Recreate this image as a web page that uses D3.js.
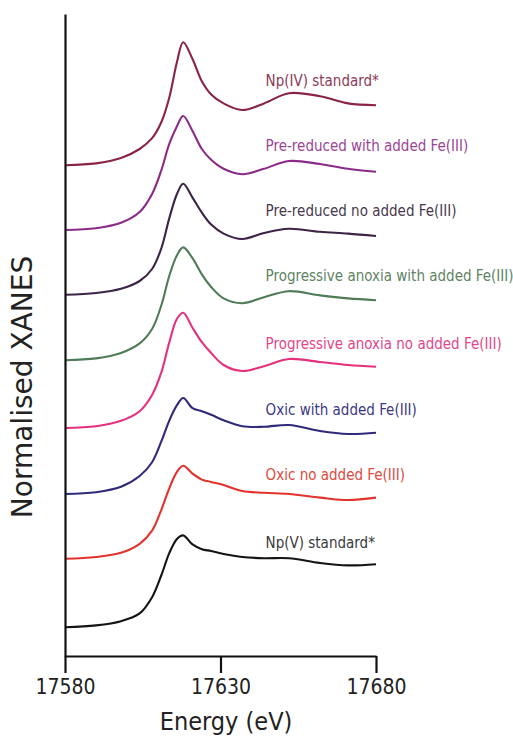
<!DOCTYPE html>
<html><head><meta charset="utf-8">
<script src="https://cdn.jsdelivr.net/npm/d3@7/dist/d3.min.js"></script>
<style>body{margin:0;background:#fff}svg{display:block}</style>
</head><body><svg id="c" width="513" height="736"></svg>
<script>
// Energy grid (eV)
const energies = [17580, 17590, 17598, 17604, 17608, 17611, 17613.5, 17616, 17618, 17621, 17624, 17627, 17631, 17637, 17644, 17652, 17662, 17671, 17680];

// Normalised XANES (before vertical stacking offset)
const npV        = [0, 0.03, 0.10, 0.23, 0.50, 0.87, 1.23, 1.47, 1.53, 1.38, 1.30, 1.27, 1.22, 1.17, 1.15, 1.15, 1.07, 1.03, 1.05];
const oxicNo     = [0, 0.03, 0.10, 0.25, 0.47, 0.82, 1.17, 1.45, 1.55, 1.42, 1.32, 1.28, 1.23, 1.13, 1.10, 1.08, 1.02, 0.98, 1.02];
const oxicWith   = [0, 0.03, 0.12, 0.30, 0.53, 0.88, 1.22, 1.48, 1.60, 1.43, 1.38, 1.32, 1.23, 1.13, 1.12, 1.15, 1.05, 1.00, 1.02];
const anoxiaNo   = [0, 0.03, 0.12, 0.28, 0.55, 0.93, 1.42, 1.82, 1.92, 1.67, 1.43, 1.25, 1.05, 0.95, 1.03, 1.15, 1.10, 1.05, 1.02];
const anoxiaWith = [0, 0.03, 0.12, 0.28, 0.52, 0.92, 1.40, 1.75, 1.88, 1.70, 1.43, 1.22, 1.03, 0.95, 1.05, 1.15, 1.08, 1.03, 1.00];
const preRedNo   = [0, 0.03, 0.10, 0.23, 0.43, 0.78, 1.27, 1.68, 1.85, 1.62, 1.37, 1.17, 1.02, 0.93, 1.03, 1.10, 1.05, 1.02, 0.98];
const preRedWith = [0, 0.03, 0.12, 0.30, 0.60, 1.00, 1.43, 1.73, 1.90, 1.65, 1.35, 1.17, 1.02, 0.93, 1.02, 1.15, 1.10, 1.02, 0.97];
const npIV       = [0, 0.03, 0.12, 0.27, 0.45, 0.72, 1.12, 1.72, 2.05, 1.77, 1.40, 1.18, 1.03, 0.92, 1.03, 1.20, 1.15, 1.03, 1.00];

const seriesNames = ["Np(V) standard*", "Oxic no added Fe(III)", "Oxic with added Fe(III)",
  "Progressive anoxia no added Fe(III)", "Progressive anoxia with added Fe(III)",
  "Pre-reduced no added Fe(III)", "Pre-reduced with added Fe(III)", "Np(IV) standard*"];
const seriesValues = [npV, oxicNo, oxicWith, anoxiaNo, anoxiaWith, preRedNo, preRedWith, npIV];
const offsets = [0.48, 1.62, 2.70, 3.80, 4.93, 6.02, 7.10, 8.18];
const lineColors = ["#141414", "#e2332c", "#2f2a7a", "#e5317d", "#4f7b56", "#3b2446", "#8c2a88", "#8a2446"];
const textColors = ["#3a3a3a", "#e04a40", "#3d3884", "#e2468b", "#5e8363", "#48394c", "#9a4496", "#8d3a58"];
const xTicks = [17580, 17630, 17680];

const svg = d3.select("#c");
const x = d3.scaleLinear().domain([17580, 17680]).range([65, 376]);
const y = d3.scaleLinear().domain([0, 10.7]).range([656, 14]);

const line = d3.line().x(d => x(d[0])).y(d => y(d[1])).curve(d3.curveCatmullRom.alpha(0.5));

seriesValues.forEach((vals, i) => {
  const pts = energies.map((e, j) => [e, vals[j] + offsets[i]]);
  svg.append("path").attr("d", line(pts)).attr("fill", "none")
    .attr("stroke", lineColors[i]).attr("stroke-width", 2.1).attr("stroke-linejoin", "round");
  svg.append("text").attr("x", x(17644.5)).attr("y", y(offsets[i]) - 79)
    .attr("fill", textColors[i]).attr("font-family", "'DejaVu Sans Condensed','DejaVu Sans',sans-serif")
    .attr("font-size", 15).text(seriesNames[i]);
});

// axes
const gx = svg.append("g").attr("transform", "translate(0,656)")
  .call(d3.axisBottom(x).tickValues(xTicks).tickSize(17).tickSizeOuter(0).tickPadding(6).tickFormat(d3.format("d")));
gx.select(".domain").attr("stroke", "#111").attr("stroke-width", 2.2);
gx.selectAll(".tick line").attr("stroke", "#111").attr("stroke-width", 2.2);
gx.selectAll(".tick text").attr("font-family", "'DejaVu Sans Condensed','DejaVu Sans',sans-serif")
  .attr("font-size", 21).attr("fill", "#222");

const gy = svg.append("g").attr("transform", "translate(65,0)")
  .call(d3.axisLeft(y).tickValues([]).tickSizeOuter(0));
gy.select(".domain").attr("stroke", "#111").attr("stroke-width", 2.2);

svg.append("text").attr("x", 226).attr("y", 730).attr("text-anchor", "middle")
  .attr("font-family", "'DejaVu Sans Condensed','DejaVu Sans',sans-serif").attr("font-size", 25)
  .attr("fill", "#222").text("Energy (eV)");
svg.append("text").attr("transform", "translate(32,387) rotate(-90)").attr("text-anchor", "middle")
  .attr("font-family", "'DejaVu Sans',sans-serif").attr("font-size", 28)
  .attr("fill", "#222").text("Normalised XANES");
</script></body></html>
